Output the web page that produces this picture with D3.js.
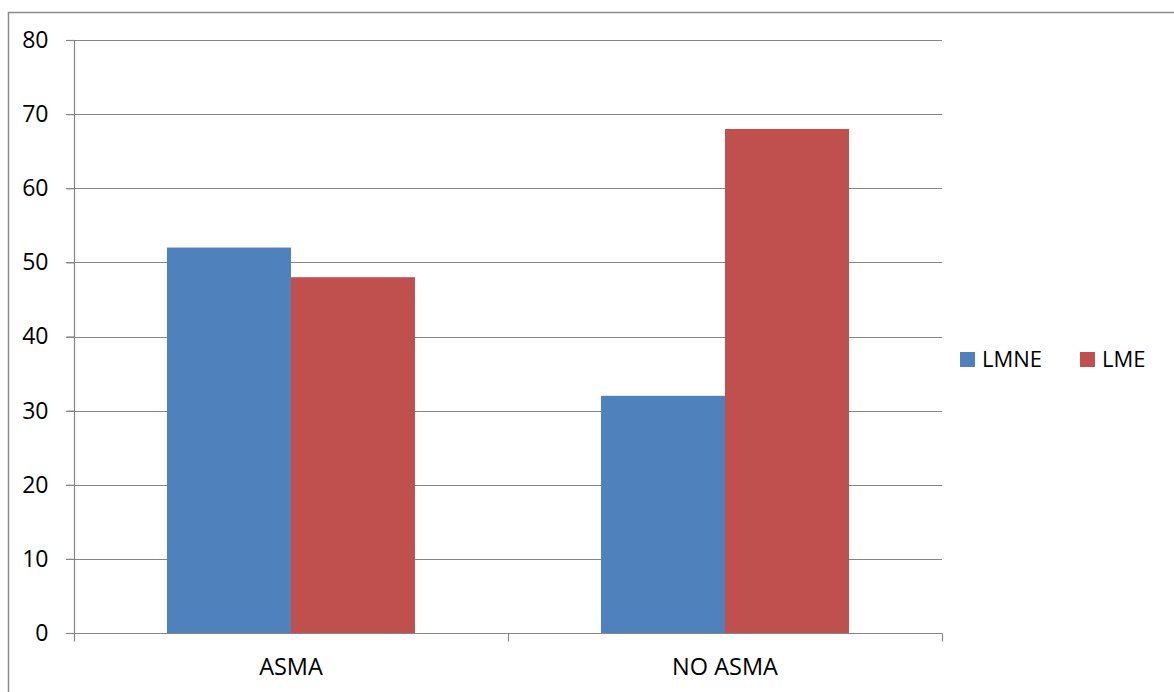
<!DOCTYPE html>
<html>
<head>
<meta charset="utf-8">
<script src="https://cdn.jsdelivr.net/npm/d3@7"></script>
<style>
  body { margin: 0; background: #fff; }
  svg { display: block; font-family: "Open Sans", "Liberation Sans", sans-serif; }
</style>
</head>
<body>
<div id="chart"></div>
<script>
// chart data
const categories = ["ASMA", "NO ASMA"];
const seriesNames = ["LMNE", "LME"];
const lmne = [52, 32];
const lme = [48, 68];
const yTicks = [0, 10, 20, 30, 40, 50, 60, 70, 80];
const colors = ["#4f81bd", "#c0504d"];

const W = 1174, H = 692;
const margin = {top: 40, left: 74, right: 232, bottom: 59};

const svg = d3.select("#chart").append("svg")
    .attr("width", W)
    .attr("height", H);

// outer chart border
svg.append("rect")
    .attr("x", 8.5).attr("y", 12.5)
    .attr("width", W + 20).attr("height", H + 20)
    .attr("fill", "none")
    .attr("stroke", "#8c8c8c")
    .attr("stroke-width", 1.5);

const x0 = d3.scaleBand()
    .domain(categories)
    .range([margin.left, W - margin.right]);

const x1 = d3.scaleBand()
    .domain(seriesNames)
    .range([0, x0.bandwidth()])
    .paddingInner(0)
    .paddingOuter(0.75);

const y = d3.scaleLinear()
    .domain([0, 80])
    .range([H - margin.bottom, margin.top]);

// gridlines
svg.append("g")
    .selectAll("line")
    .data(yTicks.slice(1))
    .join("line")
    .attr("x1", margin.left - 8)
    .attr("x2", W - margin.right)
    .attr("y1", d => Math.round(y(d)) + 0.5)
    .attr("y2", d => Math.round(y(d)) + 0.5)
    .attr("stroke", "#868686")
    .attr("stroke-width", 1.2);

// bars
const data = categories.map((c, i) => ({cat: c, values: [lmne[i], lme[i]]}));
svg.append("g")
    .selectAll("g")
    .data(data)
    .join("g")
    .attr("transform", d => `translate(${x0(d.cat)},0)`)
    .selectAll("rect")
    .data(d => d.values.map((v, j) => ({name: seriesNames[j], value: v, j})))
    .join("rect")
    .attr("x", d => x1(d.name))
    .attr("width", x1.bandwidth())
    .attr("y", d => y(d.value))
    .attr("height", d => y(0) - y(d.value))
    .attr("fill", d => colors[d.j]);

// y axis
const yAxis = svg.append("g")
    .attr("transform", `translate(${margin.left + 0.5},0)`)
    .call(d3.axisLeft(y).tickValues(yTicks).tickSize(8).tickPadding(18));
yAxis.selectAll("line, path").attr("stroke", "#868686").attr("stroke-width", 1.2);
yAxis.select(".domain").attr("d", `M0,${y(80)}V${y(0)}`);
yAxis.selectAll("text")
    .attr("font-size", 23)
    .attr("fill", "#000")
    .attr("font-family", "'Open Sans', 'Liberation Sans', sans-serif");

// x axis
const xAxis = svg.append("g")
    .attr("transform", `translate(0,${Math.round(y(0)) + 0.5})`)
    .call(d3.axisBottom(x0).tickSize(0).tickPadding(25));
xAxis.select(".domain").attr("d", `M${margin.left - 8},0H${W - margin.right}`)
    .attr("stroke", "#868686").attr("stroke-width", 1.2);
xAxis.selectAll("text")
    .attr("font-size", 23.5)
    .attr("fill", "#000")
    .attr("font-family", "'Open Sans', 'Liberation Sans', sans-serif");
// category boundary ticks
const bounds = [x0.range()[0], x0(categories[1]), x0.range()[1]];
xAxis.selectAll(".bound")
    .data(bounds)
    .join("line")
    .attr("class", "bound")
    .attr("x1", d => Math.round(d) + 0.5)
    .attr("x2", d => Math.round(d) + 0.5)
    .attr("y1", 0)
    .attr("y2", 8)
    .attr("stroke", "#868686")
    .attr("stroke-width", 1.2);

// legend
const legend = svg.append("g")
    .attr("transform", "translate(960,352)");
const item = legend.selectAll("g")
    .data(seriesNames)
    .join("g")
    .attr("transform", (d, i) => `translate(${i * 120},0)`);
item.append("rect")
    .attr("width", 15).attr("height", 15)
    .attr("fill", (d, i) => colors[i]);
item.append("text")
    .attr("x", 22)
    .attr("y", 15)
    .attr("font-size", 22)
    .attr("fill", "#000")
    .text(d => d);
</script>
</body>
</html>
